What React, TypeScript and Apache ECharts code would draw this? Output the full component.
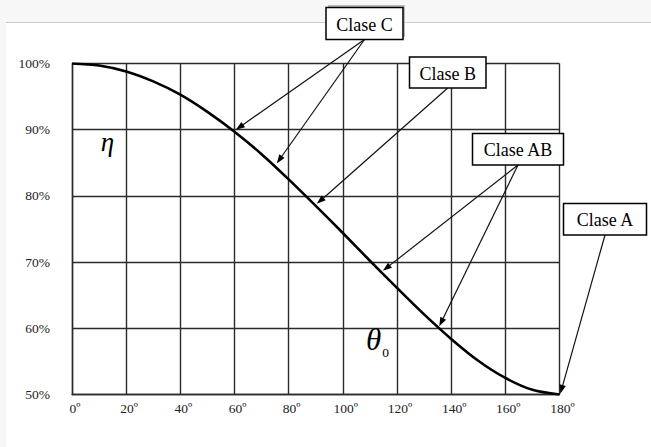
import React, { useEffect, useRef } from 'react';
import * as echarts from 'echarts';

// Curve: efficiency (%) versus half conduction angle θ0 (degrees)
const thetaDeg = [0, 10, 20, 30, 40, 50, 60, 70, 80, 90, 100, 110, 120, 130, 140, 150, 160, 170, 180];
const efficiencyPct = [100, 99.7, 98.8, 97.3, 95.3, 92.7, 89.7, 86.3, 82.5, 78.5, 74.4, 70.2, 66.1, 62.1, 58.4, 55.1, 52.5, 50.7, 50.0];

const xTickValues = [0, 20, 40, 60, 80, 100, 120, 140, 160, 180];
const xTickLabels = ['0º', '20º', '40º', '60º', '80º', '100º', '120º', '140º', '160º', '180º'];
const yTickValues = [50, 60, 70, 80, 90, 100];
const yTickLabels = ['50%', '60%', '70%', '80%', '90%', '100%'];

const classLabels = ['Clase C', 'Clase B', 'Clase AB', 'Clase A'];
// arrow targets [θ0, η%] for each class label
const arrowTargets: [number, number][][] = [
  [[60.5, 90.0], [75.6, 84.9]],
  [[90.4, 78.8]],
  [[114.8, 68.7], [135.6, 60.3]],
  [[180.3, 50.1]],
];

// box layout (pixels)
const boxLayout = [
  { x: 326, y: 7.5, w: 77, h: 32, shadow: true },
  { x: 409.5, y: 57, w: 76.5, h: 31 },
  { x: 472.5, y: 133.5, w: 91, h: 31.5 },
  { x: 563.5, y: 203.5, w: 83, h: 31.5 },
];

const SERIF = '"Liberation Serif", "Times New Roman", serif';

export default function App() {
  const ref = useRef<HTMLDivElement>(null);

  useEffect(() => {
    if (!ref.current) return;
    const chart = echarts.init(ref.current, undefined, { renderer: 'svg' });
    const gridColor = '#2b2b2b';
    const option: any = {
      animation: false,
      backgroundColor: 'transparent',
      grid: { left: 72, right: 91.5, top: 63.5, bottom: 52.5, containLabel: false },
      xAxis: {
        type: 'value',
        min: 0,
        max: 180,
        interval: 20,
        axisLine: { show: true, lineStyle: { color: gridColor, width: 1.4 } },
        axisTick: { show: false },
        splitLine: { show: true, lineStyle: { color: gridColor, width: 1.4 } },
        axisLabel: {
          margin: 7,
          padding: [0, 0, 0, 6],
          color: '#222',
          fontFamily: SERIF,
          fontSize: 13.5,
          formatter: (v: number) => {
            const i = xTickValues.indexOf(v);
            return i >= 0 ? xTickLabels[i] : '';
          },
        },
      },
      yAxis: {
        type: 'value',
        min: 50,
        max: 100,
        interval: 10,
        axisLine: { show: true, lineStyle: { color: gridColor, width: 1.4 } },
        axisTick: { show: false },
        splitLine: { show: true, lineStyle: { color: gridColor, width: 1.4 } },
        axisLabel: {
          margin: 22,
          padding: [8, 0, 0, 0],
          color: '#222',
          fontFamily: SERIF,
          fontSize: 13.5,
          formatter: (v: number) => {
            const i = yTickValues.indexOf(v);
            return i >= 0 ? yTickLabels[i] : '';
          },
        },
      },
      series: [
        {
          type: 'line',
          data: thetaDeg.map((t, i) => [t, efficiencyPct[i]]),
          smooth: 0.3,
          symbol: 'none',
          lineStyle: { color: '#000', width: 2.6 },
          z: 5,
        },
      ],
    };
    chart.setOption(option);

    const elements: any[] = [];
    classLabels.forEach((label, k) => {
      const b = boxLayout[k];
      const sx = b.x + b.w / 2;
      const sy = b.y + b.h;
      arrowTargets[k].forEach((tgt) => {
        const p = chart.convertToPixel({ gridIndex: 0 }, tgt) as number[];
        const dx = p[0] - sx;
        const dy = p[1] - sy;
        const len = Math.sqrt(dx * dx + dy * dy);
        const ux = dx / len;
        const uy = dy / len;
        const hl = 9;
        const hw = 3.2;
        const bx = p[0] - ux * hl;
        const by = p[1] - uy * hl;
        elements.push({
          type: 'line',
          z: 20,
          shape: { x1: sx, y1: sy, x2: bx + ux * 2, y2: by + uy * 2 },
          style: { stroke: '#111', lineWidth: 1.2 },
        });
        elements.push({
          type: 'polygon',
          z: 21,
          shape: {
            points: [
              [p[0], p[1]],
              [bx - uy * hw, by + ux * hw],
              [bx + uy * hw, by - ux * hw],
            ],
          },
          style: { fill: '#000' },
        });
      });
      if (b.shadow) {
        elements.push({
          type: 'rect',
          z: 22,
          shape: { x: b.x + 2, y: b.y - 2.5, width: b.w, height: b.h },
          style: { fill: '#bdbdbd' },
        });
      }
      elements.push({
        type: 'rect',
        z: 23,
        shape: { x: b.x, y: b.y, width: b.w, height: b.h },
        style: { fill: '#fff', stroke: '#000', lineWidth: 1.5 },
      });
      elements.push({
        type: 'text',
        z: 24,
        style: {
          text: label,
          x: b.x + b.w / 2,
          y: b.y + b.h / 2 + 1,
          align: 'center',
          verticalAlign: 'middle',
          font: `18px ${SERIF}`,
          fill: '#000',
        },
      });
    });

    elements.push({
      type: 'text',
      z: 24,
      style: {
        text: 'η',
        x: 107.5,
        y: 141.5,
        align: 'center',
        verticalAlign: 'middle',
        font: `italic 27px ${SERIF}`,
        fill: '#000',
      },
    });
    elements.push({
      type: 'text',
      z: 24,
      style: {
        text: 'θ',
        x: 373.5,
        y: 339,
        align: 'center',
        verticalAlign: 'middle',
        font: `italic 31px ${SERIF}`,
        fill: '#000',
      },
    });
    elements.push({
      type: 'text',
      z: 24,
      style: {
        text: '0',
        x: 385.5,
        y: 352.5,
        align: 'center',
        verticalAlign: 'middle',
        font: `13.5px ${SERIF}`,
        fill: '#000',
      },
    });

    chart.setOption({ graphic: { elements } });

    return () => chart.dispose();
  }, []);

  return (
    <div style={{ position: 'fixed', left: 0, top: 0, width: 651, height: 447, background: '#f7f7f7', overflow: 'hidden' }}>
      <div
        style={{
          position: 'absolute',
          left: 6,
          top: 22,
          right: 0,
          bottom: 0,
          background: '#fff',
          borderTop: '1px solid #cccccc',
        }}
      />
      <div ref={ref} style={{ position: 'absolute', left: 0, top: 0, width: 651, height: 447 }} />
    </div>
  );
}
